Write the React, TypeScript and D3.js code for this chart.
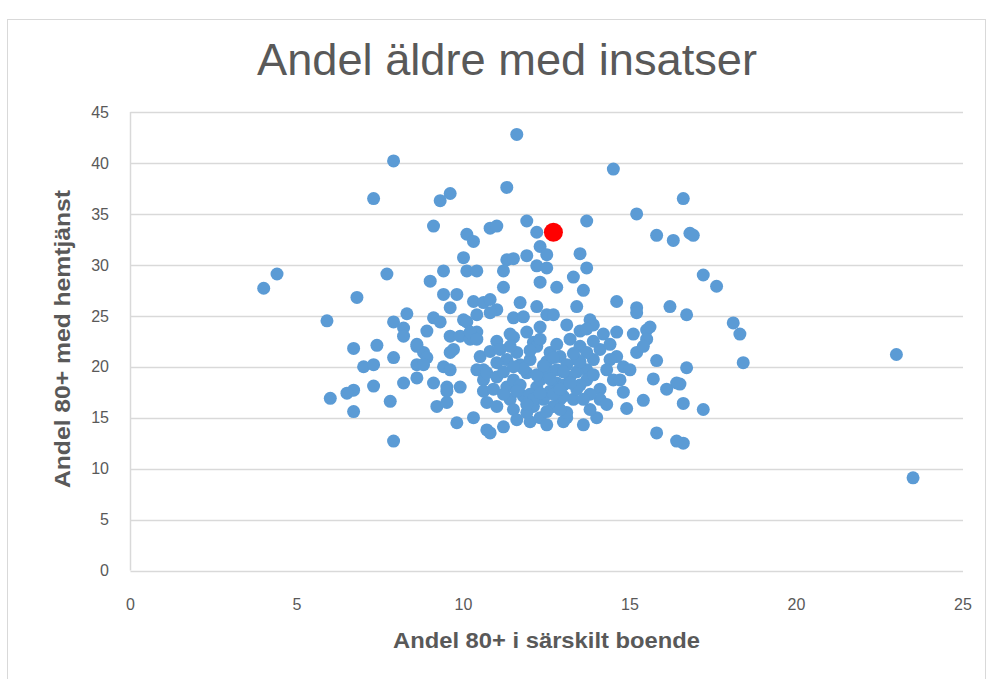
import React, { useEffect, useRef } from "react";
import * as d3 from "d3";

// [andel 80+ i särskilt boende, andel 80+ med hemtjänst] per kommun
const kommunPunkter: [number, number][] = [
  [4.0, 27.7], [4.4, 29.1], [5.9, 24.5], [6.0, 16.9], [7.9, 40.2], [7.3, 36.5], [7.7, 29.1], [6.8, 26.8],
  [6.7, 21.8], [6.7, 17.7], [6.5, 17.4], [6.7, 15.6], [7.0, 20.0], [7.3, 20.2], [7.3, 18.1], [7.4, 22.1],
  [7.8, 16.6], [7.9, 20.9], [7.9, 12.7], [7.9, 24.4], [8.2, 23.8], [8.3, 25.2], [8.2, 23.0], [8.2, 18.4],
  [8.6, 18.9], [8.6, 22.0], [8.8, 21.4], [8.9, 20.9], [8.6, 20.2], [8.8, 20.2], [8.9, 23.5], [9.1, 18.4],
  [9.1, 24.8], [9.3, 24.4], [9.4, 27.1], [9.8, 27.1], [9.6, 25.8], [10.3, 26.4], [10.0, 24.6], [10.1, 24.4],
  [9.6, 23.0], [9.9, 23.0], [9.7, 21.7], [10.2, 22.7], [10.4, 23.4], [9.4, 20.0], [9.6, 19.7], [9.5, 18.0],
  [9.9, 18.0], [9.2, 16.1], [9.5, 16.5], [9.8, 14.5], [10.3, 15.0], [10.7, 16.5], [10.7, 13.8], [10.5, 21.0],
  [10.6, 19.7], [10.6, 18.7], [10.6, 26.3], [9.3, 36.3], [9.6, 37.0], [11.3, 37.6], [9.1, 33.8], [10.1, 33.0],
  [10.3, 32.3], [10.8, 33.6], [11.0, 33.8], [11.9, 34.3], [10.0, 30.7], [11.3, 30.5], [11.5, 30.6], [11.9, 30.9],
  [9.4, 29.4], [10.1, 29.4], [10.4, 29.4], [11.2, 29.4], [9.0, 28.4], [11.2, 27.8], [10.8, 26.6], [11.0, 25.6],
  [11.7, 26.3], [10.4, 25.1], [10.8, 25.3], [11.5, 24.8], [11.8, 24.9], [11.6, 42.8], [14.5, 39.4], [12.2, 33.2],
  [13.7, 34.3], [15.2, 35.0], [16.6, 36.5], [15.8, 32.9], [16.3, 32.4], [12.3, 31.8], [12.5, 31.0], [13.5, 31.1],
  [13.7, 29.7], [12.2, 29.9], [12.5, 29.7], [12.3, 28.3], [12.8, 27.8], [13.3, 28.8], [13.6, 27.5], [14.6, 26.4],
  [15.2, 25.8], [15.2, 25.3], [16.2, 25.9], [13.4, 25.9], [12.2, 25.9], [12.5, 25.1], [12.7, 25.1], [13.8, 24.6],
  [13.9, 24.1], [13.1, 24.1], [13.5, 23.5], [13.7, 23.7], [14.2, 23.2], [14.6, 23.4], [15.1, 23.2], [15.5, 23.6],
  [15.5, 22.7], [8.6, 22.2], [11.0, 22.5], [11.5, 22.9], [12.1, 22.4], [16.8, 33.1], [16.9, 32.9], [17.2, 29.0],
  [17.6, 27.9], [16.7, 25.1], [18.1, 24.3], [18.3, 23.2], [18.4, 20.4], [23.0, 21.2], [16.7, 19.9], [16.5, 18.3],
  [16.6, 16.4], [17.2, 15.8], [16.6, 12.5], [23.5, 9.1], [16.4, 12.7], [15.6, 23.9], [15.8, 20.6], [15.7, 18.8],
  [16.4, 18.4], [16.1, 17.8], [15.4, 16.7], [14.9, 15.9], [14.0, 15.0], [13.6, 14.3], [15.8, 13.5], [15.2, 21.4],
  [15.4, 22.0], [14.8, 20.0], [15.0, 19.7], [14.8, 17.5], [14.1, 17.8], [14.6, 21.0], [14.4, 20.7], [13.9, 20.7],
  [13.5, 22.0], [13.7, 21.4], [11.4, 23.2], [11.9, 23.4], [12.2, 22.0], [10.2, 23.4], [10.4, 22.7], [13.1, 15.0],
  [13.0, 14.6], [11.2, 14.1], [10.8, 13.5], [12.0, 14.6], [12.3, 15.0], [13.3, 16.8], [12.9, 16.8], [13.1, 15.5],
  [9.5, 17.6], [11.0, 16.1], [10.6, 17.6], [10.9, 17.8], [10.4, 19.7], [10.8, 21.5], [11.3, 20.7], [11.6, 21.4],
  [11.4, 22.0], [9.6, 21.4], [12.3, 23.9], [12.6, 21.4], [12.9, 21.0], [13.4, 20.7], [13.7, 19.7], [11.9, 19.4],
  [12.2, 18.0], [12.5, 19.7], [12.8, 18.4], [13.2, 19.0], [11.8, 17.1], [12.1, 16.1], [12.4, 16.8], [12.7, 16.1],
  [13.0, 17.1], [11.3, 18.0], [11.4, 16.8], [11.5, 18.7], [10.7, 19.4], [11.0, 20.4], [11.9, 15.5], [11.7, 20.2],
  [12.0, 20.7], [12.5, 20.5], [12.8, 19.7], [13.1, 20.2], [13.4, 19.5], [13.7, 18.7], [13.9, 19.2], [14.3, 19.7],
  [14.1, 16.8], [13.8, 17.3], [13.5, 18.2], [11.7, 18.2], [12.0, 17.3], [12.3, 18.7], [12.6, 17.6], [12.9, 15.8],
  [12.5, 15.6], [12.1, 16.8], [11.5, 15.8], [11.9, 16.3], [12.7, 17.3], [13.0, 18.2], [13.4, 17.8], [13.8, 15.8],
  [14.3, 16.3], [14.5, 18.7], [14.7, 18.7], [11.0, 19.0], [11.2, 17.3], [11.6, 14.8], [12.5, 14.3], [11.1, 21.7],
  [12.3, 22.7], [12.8, 22.2], [13.2, 22.7], [14.1, 21.7], [14.4, 22.2], [13.5, 20.5], [13.9, 22.5], [12.2, 19.2],
  [12.6, 18.8], [13.0, 19.5], [13.3, 21.3], [12.4, 20.1], [11.8, 19.8], [12.9, 17.8], [13.6, 16.8], [12.3, 17.4],
  [11.6, 17.6], [11.2, 19.5], [13.2, 18.4], [12.0, 21.6], [12.7, 20.9], [11.5, 20.0],
];

// den markerade kommunen (röd)
const markeradKommun: [number, number] = [12.7, 33.2];

const xTicks = [0, 5, 10, 15, 20, 25];
const yTicks = [0, 5, 10, 15, 20, 25, 30, 35, 40, 45];

const titel = "Andel äldre med insatser";
const xTitel = "Andel 80+ i särskilt boende";
const yTitel = "Andel 80+ med hemtjänst";

const App = () => {
  const svgRef = useRef<SVGSVGElement>(null);
  const width = 990;
  const height = 679;

  useEffect(() => {
    const svg = d3.select(svgRef.current);
    svg.selectAll("*").remove();

    const left = 130.5;
    const right = 963;
    const top = 112;
    const bottom = 570.5;

    const xScale = d3.scaleLinear().domain([0, 25]).range([left, right]);
    const yScale = d3.scaleLinear().domain([0, 45]).range([bottom, top]);

    // chart frame
    svg
      .append("rect")
      .attr("x", 7.5)
      .attr("y", 19.5)
      .attr("width", 978)
      .attr("height", 670)
      .attr("fill", "white")
      .attr("stroke", "#d9d9d9");

    // horizontal gridlines
    svg
      .append("g")
      .selectAll("line")
      .data(yTicks)
      .enter()
      .append("line")
      .attr("x1", left)
      .attr("x2", right)
      .attr("y1", (d) => Math.round(yScale(d)) + 0.5)
      .attr("y2", (d) => Math.round(yScale(d)) + 0.5)
      .attr("stroke", "#d9d9d9")
      .attr("stroke-width", 1.5);

    // y axis line
    svg
      .append("line")
      .attr("x1", left)
      .attr("x2", left)
      .attr("y1", top)
      .attr("y2", bottom)
      .attr("stroke", "#d9d9d9")
      .attr("stroke-width", 1.5);

    const labelFont = "'Liberation Sans Narrow', 'Liberation Sans', Arial, sans-serif";

    // tick labels
    svg
      .append("g")
      .selectAll("text")
      .data(yTicks)
      .enter()
      .append("text")
      .attr("x", 109)
      .attr("y", (d) => yScale(d))
      .attr("dy", "0.36em")
      .attr("text-anchor", "end")
      .style("font-family", labelFont)
      .style("font-size", "16px")
      .style("fill", "#595959")
      .text((d) => d);

    svg
      .append("g")
      .selectAll("text")
      .data(xTicks)
      .enter()
      .append("text")
      .attr("x", (d) => xScale(d))
      .attr("y", 610)
      .attr("text-anchor", "middle")
      .style("font-family", labelFont)
      .style("font-size", "16px")
      .style("fill", "#595959")
      .text((d) => d);

    // titles
    svg
      .append("text")
      .attr("x", 507)
      .attr("y", 75)
      .attr("text-anchor", "middle")
      .attr("textLength", 500)
      .attr("lengthAdjust", "spacingAndGlyphs")
      .style("font-family", "'Liberation Sans', Arial, sans-serif")
      .style("font-size", "44px")
      .style("fill", "#595959")
      .text(titel);

    svg
      .append("text")
      .attr("x", 546.5)
      .attr("y", 648)
      .attr("text-anchor", "middle")
      .attr("textLength", 307)
      .attr("lengthAdjust", "spacingAndGlyphs")
      .style("font-family", labelFont)
      .style("font-weight", "bold")
      .style("font-size", "22px")
      .style("fill", "#595959")
      .text(xTitel);

    svg
      .append("text")
      .attr("transform", "translate(70,339) rotate(-90)")
      .attr("text-anchor", "middle")
      .attr("textLength", 298)
      .attr("lengthAdjust", "spacingAndGlyphs")
      .style("font-family", labelFont)
      .style("font-weight", "bold")
      .style("font-size", "22px")
      .style("fill", "#595959")
      .text(yTitel);

    // data points
    svg
      .append("g")
      .selectAll("circle")
      .data(kommunPunkter)
      .enter()
      .append("circle")
      .attr("cx", (d) => xScale(d[0]))
      .attr("cy", (d) => yScale(d[1]))
      .attr("r", 6.5)
      .attr("fill", "#5b9bd5");

    svg
      .append("circle")
      .attr("cx", xScale(markeradKommun[0]))
      .attr("cy", yScale(markeradKommun[1]))
      .attr("r", 9.5)
      .attr("fill", "#ff0000");
  }, []);

  return (
    <svg
      ref={svgRef}
      width={width}
      height={height}
      style={{ position: "absolute", left: 0, top: 0, background: "white" }}
    ></svg>
  );
};

export default App;
